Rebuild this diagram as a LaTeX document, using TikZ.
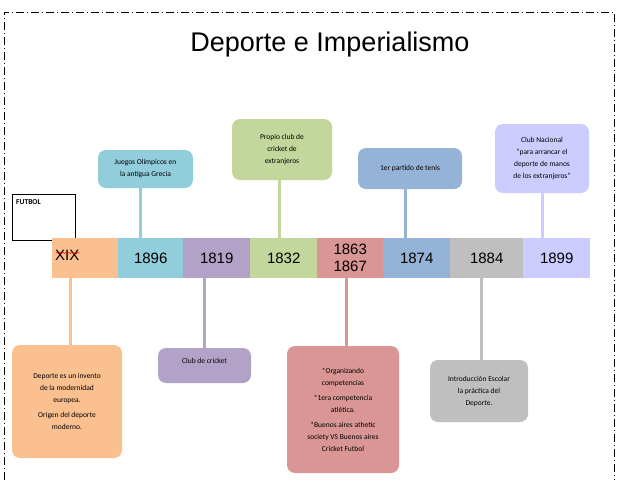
\documentclass[tikz,border=0pt]{standalone}
\usepackage{fontspec}
\usetikzlibrary{decorations.pathmorphing}
\setmainfont{Carlito}
\newfontfamily\arialf{Liberation Sans}
\begin{document}
\begin{tikzpicture}[x=1pt,y=-1pt,
 seg/.style={minimum width=#1pt,minimum height=40pt,inner sep=0pt,anchor=north west,font=\arialf\fontsize{15}{17}\selectfont},
 card/.style={rounded corners=8pt,inner sep=2pt,align=center,font=\fontsize{7.5}{12}\selectfont},
 stem/.style={line width=3pt}]
\useasboundingbox (0,0) rectangle (624,480);
\definecolor{cor}{HTML}{FAC090}\definecolor{cbl}{HTML}{92CDDC}\definecolor{cpu}{HTML}{B3A2C7}
\definecolor{cgr}{HTML}{C3D69B}\definecolor{cre}{HTML}{D99694}\definecolor{cb2}{HTML}{95B3D7}
\definecolor{cgy}{HTML}{BFBFBF}\definecolor{cla}{HTML}{CCCCFF}
\draw[line width=1pt,dash pattern=on 8pt off 3pt on 1pt off 3pt] (4,480) -- (4,12) -- (614,12) -- (614,480);
\node[font=\arialf\fontsize{27}{30}\selectfont] (title) at (330,45) {Deporte e Imperialismo};
\node[draw,minimum width=63pt,minimum height=46pt,anchor=north west,text width=55pt,align=left,font=\bfseries\fontsize{7.5}{9}\selectfont,text depth=30pt] (fut) at (12,194) {FUTBOL};
% bar
\node[seg=66,fill=cor,align=left,text width=60pt] (s1) at (52,238) {\raisebox{6pt}{XIX}};
\node[seg=65,fill=cbl] (s2) at (118,238) {1896};
\node[seg=67,fill=cpu] (s3) at (183,238) {1819};
\node[seg=67,fill=cgr] (s4) at (250,238) {1832};
\node[seg=66,fill=cre,align=center,font=\arialf\fontsize{15}{17}\selectfont] (s5) at (317,238) {1863\\1867};
\node[seg=67,fill=cb2] (s6) at (383,238) {1874};
\node[seg=73,fill=cgy] (s7) at (450,238) {1884};
\node[seg=67,fill=cla] (s8) at (523,238) {1899};
\draw[red,decorate,decoration={snake,amplitude=0.8pt,segment length=3pt}] (56,253) -- (80,253);
% top cards
\node[card,fill=cbl,minimum width=95pt,minimum height=38pt] (t1) at (145.5,169) {Juegos Olímpicos en\\la antigua Grecia};
\node[card,fill=cgr,minimum width=100pt,minimum height=61pt] (t2) at (282,149.5) {Propio club de\\cricket de\\extranjeros};
\node[card,fill=cb2,minimum width=104pt,minimum height=41pt] (t3) at (410,168.5) {1er partido de tenis};
\node[card,fill=cla,minimum width=94pt,minimum height=69pt] (t4) at (542,158.5) {Club Nacional\\“para arrancar el\\deporte de manos\\de los extranjeros”};
\draw[stem,cbl] (t1.south -| 140,0) -- (140,238);
\draw[stem,cgr] (t2.south -| 279,0) -- (279,238);
\draw[stem,cb2] (t3.south -| 405,0) -- (405,238);
\draw[stem,cla] (t4.south -| 542,0) -- (542,238);
% bottom cards
\node[card,fill=cor,minimum width=110pt,minimum height=113pt] (b1) at (67,401.5) {Deporte es un invento\\de la modernidad\\europea.\\[3pt]Origen del deporte\\moderno.};
\node[card,fill=cpu,minimum width=93pt,minimum height=35pt,text depth=10pt] (b2) at (204.5,365.5) {Club de cricket};
\node[card,fill=cre,minimum width=112pt,minimum height=127pt] (b3) at (343,409.5) {*Organizando\\competencias\\[3pt]*1era competencia\\atlética.\\[3pt]*Buenos aires athetic\\society VS Buenos aires\\Cricket Futbol};
\node[card,fill=cgy,minimum width=98pt,minimum height=62pt] (b4) at (479,391) {Introducción Escolar\\la práctica del\\Deporte.};
\draw[stem,cor] (70,278) -- (b1.north -| 70,0);
\draw[stem,cpu] (204,278) -- (b2.north -| 204,0);
\draw[stem,cre] (346,278) -- (b3.north -| 346,0);
\draw[stem,cgy] (481,278) -- (b4.north -| 481,0);
\end{tikzpicture}
\end{document}
